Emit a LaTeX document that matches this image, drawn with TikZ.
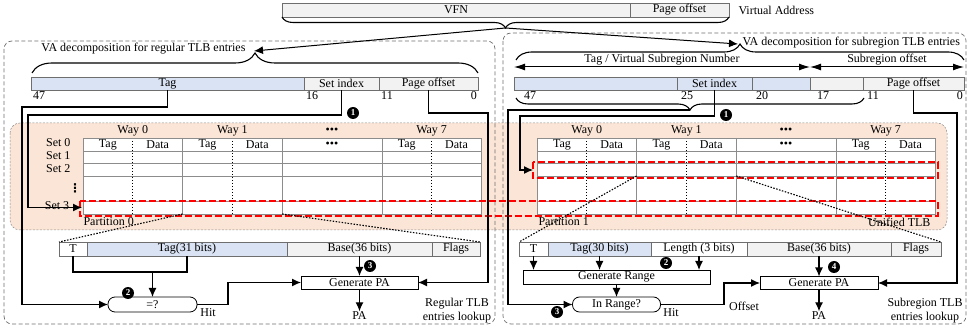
\documentclass[tikz,border=0pt]{standalone}
\usepackage{fontspec}
\setmainfont{Liberation Serif}
\newfontfamily\dotsfont{DejaVu Sans}
\usetikzlibrary{arrows.meta, decorations.pathreplacing}
\definecolor{tagblue}{RGB}{218,227,243}
\definecolor{fieldgray}{RGB}{242,242,242}
\definecolor{tlbpeach}{RGB}{251,229,214}
\definecolor{framegray}{RGB}{110,110,110}
\definecolor{cellgray}{RGB}{140,140,140}

\tikzset{
  field/.style={draw=framegray, line width=0.6pt, minimum height=13pt, inner sep=0pt, outer sep=0pt},
  opbox/.style={draw, line width=0.8pt, fill=white, minimum height=13pt, inner sep=0pt, outer sep=0pt},
  pill/.style={opbox, rounded corners=7pt, minimum height=15pt},
  badge/.style={circle, fill=black, text=white, inner sep=0pt, minimum size=12pt, font=\fontsize{9}{9}\selectfont\bfseries},
  wire/.style={line width=1.2pt},
  region/.style={draw=framegray, line width=0.7pt, dash pattern=on 4pt off 2.5pt, rounded corners=8pt},
  tlbframe/.style={draw=cellgray, line width=0.5pt, dash pattern=on 2pt off 1.5pt, rounded corners=10pt},
  hilite/.style={draw=red, line width=1.6pt, dash pattern=on 7pt off 3pt},
  zoomline/.style={line width=1.1pt, dash pattern=on 1.5pt off 1.5pt},
  vbrace/.style={decorate, decoration={brace, amplitude=#1}, line width=1.1pt},
  dimarrow/.style={line width=1pt, {Latex[length=11pt,width=7pt]}-{Latex[length=11pt,width=7pt]}},
}

\begin{document}
\begin{tikzpicture}[x=1pt, y=-1pt, >={Latex[length=9pt,width=8pt]},
  every node/.style={font=\fontsize{12}{14}\selectfont}]
\useasboundingbox (0,0) rectangle (968,328);

% unified TLB background and the two lookup regions
\draw[tlbframe, fill=tlbpeach] (10,123) rectangle (947,230);
\draw[region] (4,41) rectangle (495,324);
\draw[region] (503,33) rectangle (966,324);

% virtual address
\node[field, fill=fieldgray, minimum width=348pt, minimum height=14pt] (vfn) at (456,10) {VFN};
\node[field, fill=fieldgray, minimum width=99pt, minimum height=14pt] (vpo) at (679.5,10) {Page offset};
\node[anchor=west] (vaname) at (735,10) {Virtual Address};
\draw[vbrace=11pt] (vpo.south east) -- (vfn.south west);
\coordinate (vfntip) at (505.5,28);
\coordinate (regtip) at (254,51);
\coordinate (subtip) at (738,44);
\draw[line width=1pt, ->] (vfntip) -- (regtip);
\draw[line width=1pt, ->] (vfntip) -- (subtip);

% regular decomposition
\draw[vbrace=20pt] (32,73) -- (478,73);
\node[anchor=east] (regtitle) at (249,49) {VA decomposition for regular TLB entries};
\node[field, fill=tagblue, minimum width=273pt] (regtag) at (167.5,83.5) {Tag};
\node[field, fill=fieldgray, minimum width=75pt] (regset) at (341.5,83.5) {Set index};
\node[field, fill=fieldgray, minimum width=99pt] (regoff) at (428.5,83.5) {Page offset};
\node[anchor=north west, inner sep=1pt] (regb47) at ([xshift=1pt]regtag.south west) {47};
\node[anchor=north west, inner sep=1pt] (regb16) at ([xshift=1pt]regset.south west) {16};
\node[anchor=north west, inner sep=1pt] (regb11) at ([xshift=1pt]regoff.south west) {11};
\node[anchor=north east, inner sep=1pt] (regb0) at (regoff.south east) {0};

% subregion decomposition
\draw[vbrace=16pt] (516,60) -- (964,60);
\node[anchor=west] (subtitle) at (739,43) {VA decomposition for subregion TLB entries};
\coordinate (dimL) at (514,67);
\coordinate (dimM) at (810,67);
\coordinate (dimR) at (964,67);
\draw[dimarrow] (dimL) -- node[above=0pt, inner sep=1pt] (vsnlbl) {Tag / Virtual Subregion Number} (dimM);
\draw[dimarrow] (dimM) -- node[above=0pt, inner sep=1pt] (sofflbl) {Subregion offset} (dimR);
\node[field, fill=tagblue, minimum width=163pt] (subhi) at (595.5,83.5) {};
\node[field, fill=tagblue, minimum width=75pt] (subset) at (714.5,83.5) {Set index};
\node[field, fill=tagblue, minimum width=58pt] (submid) at (781,83.5) {};
\node[field, fill=fieldgray, minimum width=53pt] (sublo) at (836.5,83.5) {};
\node[field, fill=fieldgray, minimum width=101pt] (suboff) at (913.5,83.5) {Page offset};
\node[anchor=north west, inner sep=1pt] (subb47) at ([xshift=9pt]subhi.south west) {47};
\node[anchor=north west, inner sep=1pt] (subb25) at ([xshift=3pt]subset.south west) {25};
\node[anchor=north west, inner sep=1pt] (subb20) at ([xshift=3pt]submid.south west) {20};
\node[anchor=north west, inner sep=1pt] (subb17) at ([xshift=6pt]sublo.south west) {17};
\node[anchor=north west, inner sep=1pt] (subb11) at ([xshift=3pt]suboff.south west) {11};
\node[anchor=north east, inner sep=1pt] (subb0) at (suboff.south east) {0};
\draw[vbrace=12pt] (864,98) -- (516,98);

% the two partitions of the unified TLB
\foreach \tx/\tn in {83/lt, 537/rt} {
  \fill[white] (\tx,138) rectangle ++(398.4,76);
  \foreach \ry in {151,163.5,176,201.5}
    \draw[cellgray, line width=0.6pt] (\tx,\ry) -- ++(398.4,0);
  \foreach \k in {2,4,6}
    \draw[cellgray, line width=0.6pt] (\tx+\k*49.8,138) -- ++(0,76);
  \foreach \k in {1,3,7}
    \draw[line width=1pt, dash pattern=on 1.5pt off 1.5pt] (\tx+\k*49.8,138) -- ++(0,76);
  \draw[cellgray, line width=0.6pt] (\tx,138) rectangle ++(398.4,76);
  \foreach \k/\w in {0/Way 0, 1/Way 1, 2/•••, 3/Way 7}
    \node (\tn-way\k) at (\tx+\k*99.6+49.8,131) {\w};
  \foreach \k in {0,1,3} {
    \node (\tn-tag\k) at (\tx+\k*99.6+24.9,144.5) {Tag};
    \node (\tn-data\k) at (\tx+\k*99.6+74.7,144.5) {Data};
  }
  \node (\tn-dots) at (\tx+249,144.5) {•••};
}
\node[anchor=east] (set0) at (74,143) {Set 0};
\node[anchor=east] (set1) at (74,156) {Set 1};
\node[anchor=east] (set2) at (74,169) {Set 2};
\node[font=\dotsfont\bfseries\fontsize{12}{12}\selectfont] (setdots) at (75,188) {⋮};
\node (set3) at (57,206) {Set 3};
\draw[hilite] (80,201) rectangle (938,216);
\draw[hilite] (533,162) rectangle (938,178);
\node[anchor=west] (part0) at (80,222) {Partition 0};
\node[anchor=west] (part1) at (535,222) {Partition 1};
\node[anchor=east] (unified) at (934,222) {Unified TLB};
\coordinate (ltz1) at (182.6,214);
\coordinate (ltz2) at (282.2,214);
\coordinate (rtz1) at (636.6,176);
\coordinate (rtz2) at (736.2,176);

% regular entry lookup
\node[field, fill=white, minimum width=28pt, minimum height=14pt] (lT) at (73,249) {T};
\node[field, fill=tagblue, minimum width=200pt, minimum height=14pt] (lTg) at (187,249) {Tag(31 bits)};
\node[field, fill=fieldgray, minimum width=145pt, minimum height=14pt] (lbase) at (359.5,249) {Base(36 bits)};
\node[field, fill=fieldgray, minimum width=48pt, minimum height=14pt] (lfl) at (456,249) {Flags};
\draw[zoomline] (ltz1) -- (lT.north west);
\draw[zoomline] (ltz2) -- (lfl.north east);
\node[pill, minimum width=89pt] (cmp) at (152.5,304.5) {=?};
\node[opbox, minimum width=117pt] (lgen) at (359.5,282.5) {Generate PA};
\node[inner sep=0.5pt] (lpa) at (359.5,316) {PA};
\coordinate (lmerge) at (152.5,272);
\draw[wire] (lT.south) |- (lmerge) -| (lTg.south);
\draw[wire, ->] (lmerge) -- (cmp.north);
\coordinate (reghit) at (228,304.5);
\draw[wire, ->] (cmp.east) -- (reghit) |- (lgen.west);
\draw[wire, ->] (lbase.south) -- (lgen.north);
\draw[wire, ->] (lgen.south) -- (lpa.north);
\node (reghitlbl) at (208,313) {Hit};
\node[align=center] (reglook) at (457,311) {Regular TLB\\entries lookup};

% subregion entry lookup
\node[field, fill=white, minimum width=29pt, minimum height=14pt] (rT) at (533.5,249) {T};
\node[field, fill=tagblue, minimum width=103pt, minimum height=14pt] (rTg) at (599.5,249) {Tag(30 bits)};
\node[field, fill=white, minimum width=96pt, minimum height=14pt] (rlen) at (699,249) {Length (3 bits)};
\node[field, fill=fieldgray, minimum width=144pt, minimum height=14pt] (rbase) at (819,249) {Base(36 bits)};
\node[field, fill=fieldgray, minimum width=50pt, minimum height=14pt] (rfl) at (916,249) {Flags};
\draw[zoomline] (rtz1) -- (rT.north west);
\draw[zoomline] (rtz2) -- (rfl.north east);
\node[opbox, minimum width=187pt, minimum height=14pt] (grange) at (616.5,277) {Generate Range};
\node[pill, minimum width=88pt] (inr) at (616.5,304.5) {In Range?};
\node[opbox, minimum width=118pt] (rgen) at (819,283) {Generate PA};
\node[inner sep=0.5pt] (rpa) at (819,316) {PA};
\draw[wire, ->] (rT.south) -- (rT.south |- grange.north);
\draw[wire, ->] (rTg.south) -- (rTg.south |- grange.north);
\draw[wire, ->] (rlen.south) -- (rlen.south |- grange.north);
\draw[wire, ->] (grange.south) -- (inr.north);
\coordinate (subhit) at (724,304.5);
\draw[wire, ->] (inr.east) -- (subhit) |- (rgen.west);
\draw[wire, ->] (rbase.south) -- (rgen.north);
\draw[wire, ->] (rgen.south) -- (rpa.north);
\node (subhitlbl) at (671,313) {Hit};
\node (offlbl) at (744,306) {Offset};
\node[align=center] (sublook) at (925,311) {Subregion TLB\\entries lookup};

% index, tag and offset wires from the address
\coordinate (regtagbend) at (22,107);
\coordinate (regsetbend) at (28,115);
\coordinate (regoffbend) at (488,113);
\coordinate (ltrow) at (82,207.5);
\draw[wire, ->] (regtag.south) |- (regtagbend) |- (cmp.west);
\draw[wire, ->] (regset.south) |- (regsetbend) |- (ltrow);
\draw[wire, ->] (regoff.south) |- (regoffbend) |- (lgen.east);
\coordinate (subvpn) at (690,110);
\coordinate (subtagbend) at (508,110);
\coordinate (subsetbend) at (520,116);
\coordinate (suboffbend) at (957,113);
\coordinate (rtrow) at (533,170);
\draw[wire, ->] (subvpn) -- (subtagbend) |- (inr.west);
\draw[wire, ->] (subset.south) |- (subsetbend) |- (rtrow);
\draw[wire, ->] (suboff.south) |- (suboffbend) |- (rgen.east);

% steps
\node[badge] (b1l) at (353,113) {1};
\node[badge] (b2l) at (128,293) {2};
\node[badge] (b3l) at (370,266) {3};
\node[badge] (b1r) at (726,115) {1};
\node[badge] (b2r) at (666,263) {2};
\node[badge] (b3r) at (557,312) {3};
\node[badge] (b4r) at (834,267) {4};
\end{tikzpicture}
\end{document}
